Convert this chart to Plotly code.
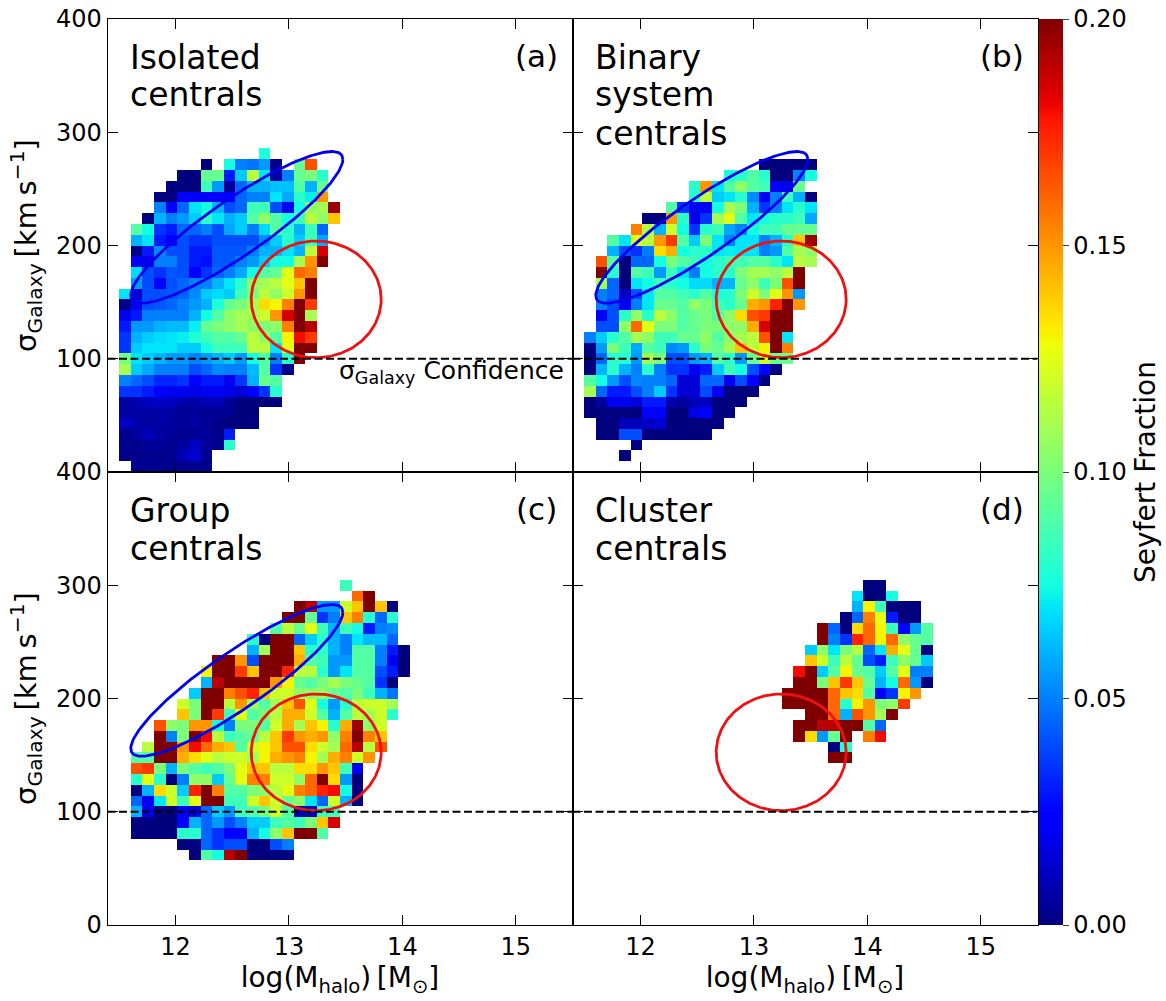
import numpy as np
import plotly.graph_objects as go

# bins: sigma bin index -> (first mass bin, seyfert fractions)
mass_edges = np.linspace(11.4, 15.5, 41)
sigma_edges = np.linspace(0, 400, 43)

isolated = {
    29: (13, [.078]),
    28: (8, [0, None, .075, .05, .048, .055, .003, None, .095, .165]),
    27: (6, [0, 0, .095, .095, .03, .065, .115, .07, .005, .05, .095, .1, .08]),
    26: (5, [0, 0, 0, .085, .055, .005, .045, .06, .06, .063, .063, .09, .06, .095]),
    25: (4, [0, 0, .022, .025, .025, .025, .025, .045, .05, .05, .07, .058, .08, .072, .15]),
    24: (4, [.05, .022, .045, .07, .075, .06, .04, .045, .085, .085, .04, .02, .075, .105, .11, .195]),
    23: (3, [0, .06, .05, .055, .065, .08, .07, .06, .065, .09, .105, .09, .075, .085, .115, .105, .14]),
    22: (2, [.09, .075, .035, .03, .045, .045, .05, .04, .058, .065, .05, .068, .09, .08, .06, .085, .045]),
    21: (2, [.06, .07, .03, .025, .04, .035, .035, .04, .04, .04, .04, .052, .065, .08, .065, .085, .058]),
    20: (2, [.002, .03, .052, .04, .04, .03, .03, .042, .042, .042, .05, .06, .06, .07, .06, .115, .185]),
    19: (2, [.02, .018, .05, .05, .04, .03, .028, .042, .042, .05, .055, .065, .075, .075, .11, .15, .2]),
    18: (2, [.068, .04, .035, .042, .04, .025, .035, .045, .05, .058, .075, .09, .095, .125, .16, .155]),
    17: (2, [.055, .04, .025, .04, .045, .05, .05, .06, .07, .08, .105, .11, .115, .125, .14, .2]),
    16: (1, [.07, .015, .04, .04, .042, .045, .052, .065, .068, .065, .085, .1, .115, .105, .12, .15, .2]),
    15: (1, [.002, .02, .04, .042, .045, .05, .055, .06, .078, .095, .1, .11, .135, .13, .155, .2, .17]),
    14: (1, [.02, .03, .05, .05, .05, .05, .06, .075, .09, .105, .11, .11, .12, .15, .185, .2, .11]),
    13: (1, [.03, .055, .055, .06, .062, .062, .072, .095, .1, .105, .11, .105, .1, .105, .155, .2, .19]),
    12: (1, [.035, .06, .065, .068, .07, .072, .078, .085, .09, .09, .095, .115, .105, .09, .13, .18, .17]),
    11: (1, [.035, .065, .07, .07, .07, .065, .065, .075, .085, .085, .085, .115, .115, .07, .125, .2, .2]),
    10: (1, [.1, .07, .065, .06, .055, .055, .05, .055, .06, .065, .055, .075, .09, .05, .08, .2]),
    9: (1, [.11, .065, .058, .05, .05, .05, .04, .045, .052, .05, .05, .062, .09, .035, .002]),
    8: (1, [.05, .045, .04, .032, .032, .035, .022, .03, .03, .02, .035, .06, .095, .09]),
    7: (1, [.035, .035, .03, .025, .02, .02, .018, .02, .02, .018, .015, .025, .035, .08]),
    6: (1, [.006, .008, .012, .012, .012, .008, .006, .01, .01, .004, 0, 0, 0, 0]),
    5: (1, [.006, .006, .006, .007, .006, .004, .005, .004, .004, .003, 0, 0]),
    4: (1, [.012, .008, .006, .006, .006, .004, .006, .004, .002, 0, 0, 0]),
    3: (1, [.002, .006, .01, .006, .004, .003, .004, .005, .002, .03]),
    2: (1, [.003, .002, .004, .004, .003, .006, .012, .004, .002, .08]),
    1: (1, [.002, .002, .003, .002, .003, .01, .014, .003]),
    0: (2, [.003, .003, .003, .003, .003, .003, .003]),
}

binary = {
    28: (16, [0, 0, 0, 0, 0]),
    27: (13, [.075, .08, .09, .08, 0, 0, .05, .075]),
    26: (10, [.08, .15, .07, .09, .105, .09, .085, .02, .02, .095]),
    25: (10, [.08, .115, .065, .07, .08, .052, .02, .05, .085, .06, 0]),
    24: (8, [.09, .035, .02, .025, .075, .11, .1, .06, .035, .05, .07, .08, .07]),
    23: (6, [0, 0, .15, .08, .018, .035, .11, .125, .09, .07, .075, .08, .08, .085, .058]),
    22: (5, [.155, .115, .06, .12, .075, .035, .08, .085, .058, .05, .075, .085, .085, .095, .095, .095]),
    21: (3, [.09, .07, .125, .115, .15, .17, .09, .065, .1, .07, .05, .07, .07, .05, .06, .08, .14, .195]),
    20: (3, [.06, .04, .035, .05, .135, .145, .075, .08, .08, .07, .072, .07, .07, .05, .055, .09, .11, .105]),
    19: (2, [.165, .09, 0, .045, .045, .075, .1, .09, .085, .075, .08, .085, .085, .09, .09, .08, .07, .115, .11]),
    18: (2, [.2, .08, 0, .09, .085, .055, .085, .07, .05, .075, .08, .08, .1, .11, .11, .105, .115, .2]),
    17: (2, [.11, .045, 0, .07, .075, .085, .08, .075, .068, .068, .06, .06, .095, .105, .085, .1, .165, .2]),
    16: (2, [.05, .045, .012, .04, .07, .09, .09, .085, .08, .09, .075, .08, .1, .12, .1, .125, .15, .055]),
    15: (2, [.05, .04, .02, .05, .07, .095, .095, .09, .105, .1, .085, .08, .095, .145, .15, .175, .2, .15]),
    14: (2, [.022, .04, .08, .105, .08, .115, .105, .09, .095, .1, .09, .105, .135, .165, .17, .2, .2]),
    13: (2, [.04, .04, .105, .16, .125, .1, .1, .09, .095, .1, .1, .105, .105, .145, .185, .2, .2]),
    12: (1, [.05, .065, .08, .09, .11, .105, .085, .085, .095, .095, .105, .09, .105, .11, .115, .165, .2, .07]),
    11: (1, [0, .055, .1, .085, .058, .09, .085, .052, .055, .08, .1, .095, .11, .14, .115, .13, .2, .155]),
    10: (1, [0, .045, .08, .08, .055, .11, .1, .04, .04, .055, .06, .09, .08, .055, .095, .12, .095, .095]),
    9: (1, [0, .06, .08, .06, .05, .08, .05, .035, .035, .02, .03, .065, .085, .075, .04, .025, 0]),
    8: (1, [.09, .075, .055, .04, .052, .05, .05, .045, .015, .015, .045, .045, .02, .04, .022, 0]),
    7: (1, [.11, .045, .03, .03, .04, .05, .065, .035, .015, .015, .04, .02, 0, 0, 0]),
    6: (1, [0, .005, .02, .02, .015, .03, .03, .008, .005, .01, .012, 0, 0, 0]),
    5: (1, [0, 0, 0, 0, 0, .022, .022, 0, 0, .018, .025, 0, 0]),
    4: (2, [0, 0, .01, .01, .012, .015, 0, 0, 0, 0, 0]),
    3: (2, [0, 0, .04, .04, 0, 0, 0, 0, 0, 0]),
    2: (5, [0]),
    1: (4, [0]),
}

group = {
    31: (20, [.085]),
    30: (21, [.16, .2]),
    29: (16, [.2, .19, .055, .055, .12, .14, .2, .14, 0]),
    28: (15, [.2, .2, .095, .035, .05, .14, .155, .08, .045, .08]),
    27: (14, [.09, .115, .095, .125, .085, .06, .085, .075, .03, .05, .052]),
    26: (12, [.08, 0, .2, .2, .045, .065, .08, .06, .05, .07, .062, .062, .045]),
    25: (12, [.06, .11, .2, .2, .14, .08, .08, .06, .05, .09, .09, .05, .03, 0]),
    24: (9, [.2, .2, .15, .04, .2, .2, .2, .145, .09, .085, .055, .055, .09, .09, .05, .02, 0]),
    23: (8, [.13, .2, .2, .17, .14, .2, .2, .175, .115, .115, .08, .055, .07, .09, .09, .04, .03, 0]),
    22: (8, [.06, .19, .2, .2, .2, .2, .15, .13, .095, .09, .1, .11, .1, .095, .09, .035, 0]),
    21: (7, [.065, .2, .2, .155, .165, .175, .14, .12, .12, .105, .105, .105, .095, .09, .1, .085, .06, .048]),
    20: (6, [.12, .1, .2, .2, .115, .15, .11, .09, .11, .14, .165, .125, .075, .055, .08, .115, .12, .12, .11]),
    19: (6, [.14, .1, .2, .17, .085, .125, .09, .1, .115, .145, .145, .12, .09, .06, .09, .115, .11, .12, .08]),
    18: (4, [.165, .105, .1, .15, .15, .075, .05, .1, .1, .09, .12, .145, .11, .14, .13, .08, .145, .195, .105, .12]),
    17: (4, [.2, .05, .1, .2, .18, .115, .085, .09, .095, .115, .14, .17, .15, .145, .15, .105, .155, .2, .155, .14]),
    16: (3, [.115, .2, .2, .15, .18, .16, .145, .14, .09, .12, .13, .14, .165, .165, .135, .12, .11, .16, .19, .115, .165]),
    15: (2, [.09, .09, .2, .2, .145, .135, .125, .115, .12, .12, .11, .13, .145, .15, .155, .13, .11, .145, .155, .12, .15]),
    14: (2, [.165, .17, .1, .06, .1, .09, .085, .09, .1, .125, .14, .14, .115, .115, .135, .135, .15, .14, .085, .02]),
    13: (2, [.08, .125, .08, 0, .05, .105, .105, .065, .095, .125, .155, .155, .12, .12, .105, .16, .2, .135, .055, 0]),
    12: (2, [0, .06, .135, .12, .065, .175, .2, .155, .09, .09, .1, .105, .115, .125, .155, .16, .175, .18, .075, 0]),
    11: (2, [.045, .02, .07, .12, .085, .125, .2, .2, .085, .085, .12, .14, .12, .095, .105, .07, .045, .12, .06, 0]),
    10: (2, [.06, .02, 0, 0, .02, .015, .045, .065, .055, .085, .09, .1, .12, .09, .01, .01, .085, .085]),
    9: (2, [0, 0, 0, 0, .025, .06, .045, .055, .04, .05, .065, .065, .085, .09, .085, .1, .14, .185]),
    8: (2, [0, 0, 0, 0, .08, .08, .045, .035, .025, .025, .06, .075, .105, .14, .2, .2, .09]),
    7: (6, [0, 0, .045, .035, .04, .04, 0, 0, .04, .05]),
    6: (7, [0, .09, .075, .19, .2, 0, 0, 0, 0]),
}

cluster = {
    31: (25, [0, 0]),
    30: (24, [.07, 0, 0, .075]),
    29: (24, [.06, .13, .085, 0, 0, 0]),
    28: (23, [0, .045, .155, .125, .03, 0, 0]),
    27: (21, [.2, .045, 0, .135, .16, .13, .085, .025, .055, .09]),
    26: (21, [.2, .05, .035, .175, .16, .13, .16, .105, .095, .09]),
    25: (20, [.065, .105, .07, .1, .115, .045, .07, .145, .125, .095, 0]),
    24: (20, [.14, .12, .085, .115, .095, .04, .03, .085, .105, .095, .065]),
    23: (19, [.18, .2, .065, .09, .13, .095, .09, .065, .09, .125, .05, .05]),
    22: (19, [.2, .2, .1, .14, .17, .14, .095, .06, .075, .16, .055, 0]),
    21: (18, [.2, .2, .2, .2, .16, .14, .135, .09, .02, .035, .13, .15]),
    20: (18, [.2, .2, .2, .2, .16, .08, .13, .15, .1, .105, .17]),
    19: (20, [.2, .2, .16, .06, .165, .15, .11, .2]),
    18: (19, [.2, .2, .19, .19, .2, .2, .09, .045]),
    17: (19, [.2, .135, .055, .095, .2, None, .155, .18]),
    16: (22, [0, .08]),
    15: (22, [.2, .2]),
}

panel_lines = [["Isolated", "centrals"], ["Binary", "system", "centrals"],
               ["Group", "centrals"], ["Cluster", "centrals"]]
panel_tags = ["(a)", "(b)", "(c)", "(d)"]
x_ticks = [12, 13, 14, 15]
cbar_ticks = [0, 0.05, 0.10, 0.15, 0.20]

# matplotlib jet
jet = [[0, "rgb(0,0,127)"], [0.11, "rgb(0,0,255)"], [0.125, "rgb(0,0,255)"],
       [0.34, "rgb(0,219,255)"], [0.35, "rgb(0,229,247)"], [0.375, "rgb(20,255,226)"],
       [0.64, "rgb(238,255,8)"], [0.65, "rgb(246,244,0)"], [0.66, "rgb(255,234,0)"],
       [0.89, "rgb(255,19,0)"], [0.91, "rgb(232,0,0)"], [1, "rgb(127,0,0)"]]

FONT = "DejaVu Sans"
W, H = 1166, 1001
MT, MB = 14, 14  # room so the colorbar does not push the margins


def py(y_px):
    # pixel row in the page -> plot area fraction
    return 1 - (y_px - MT) / (H - MT - MB)


def grid(rows):
    z = [[None] * 40 for _ in range(42)]
    for j, (first, vals) in rows.items():
        for k, v in enumerate(vals):
            z[j][first + k] = v
    return z


def ellipse(cx, cy, dx, dy, phi):
    t = np.linspace(0, 2 * np.pi, 241)
    return cx + dx * np.cos(t), cy + dy * np.cos(t - phi)


blue_x, blue_y = ellipse(12.54, 216, 0.935, 67, np.radians(26.4))
red_x, red_y = ellipse(13.24, 152.5, 0.573, 51.5, np.pi / 2)

fig = go.Figure()

panels = [isolated, binary, group, cluster]
for n, rows in enumerate(panels):
    sfx = "" if n == 0 else str(n + 1)
    xa, ya = "x" + sfx, "y" + sfx
    fig.add_trace(go.Heatmap(x=mass_edges, y=sigma_edges, z=grid(rows), coloraxis="coloraxis",
                             xaxis=xa, yaxis=ya, hoverongaps=False))
    if n < 3:
        fig.add_trace(go.Scatter(x=blue_x, y=blue_y, mode="lines", xaxis=xa, yaxis=ya, showlegend=False,
                                 line=dict(color="#0000f0", width=2.8)))
    fig.add_trace(go.Scatter(x=red_x, y=red_y, mode="lines", xaxis=xa, yaxis=ya, showlegend=False,
                             line=dict(color="#ee1111", width=2.8)))
    fig.add_shape(type="line", xref=xa, yref=ya, x0=11.4, x1=15.5, y0=100, y1=100,
                  line=dict(color="black", width=2.2, dash="8px,3.5px"))

    left = 107.5 + 465 * (n % 2)
    top = 19 + 453 * (n // 2)
    x_title = "log(M<sub>halo</sub>)\u2009[M<sub>⊙</sub>]" if n >= 2 else None
    y_title = "σ<sub>Galaxy</sub>\u2009[km\u2009s<sup>−1</sup>]" if n % 2 == 0 else None
    fig.layout["xaxis" + sfx] = dict(
        domain=[left / W, (left + 465) / W], range=[11.4, 15.5], anchor=ya,
        tickvals=x_ticks, ticks="inside", ticklen=10, tickwidth=1, tickcolor="black",
        showticklabels=n >= 2, showline=True, linecolor="black", linewidth=1, mirror="allticks",
        showgrid=False, zeroline=False, tickfont=dict(size=24),
        title=dict(text=x_title, font=dict(size=28), standoff=1))
    fig.layout["yaxis" + sfx] = dict(
        domain=[py(top + 453), py(top)], range=[0, 400], anchor=xa,
        tickvals=[0, 100, 200, 300, 400] if n >= 2 else [100, 200, 300, 400],
        ticks="inside", ticklen=10, tickwidth=1, tickcolor="black",
        showticklabels=n % 2 == 0, showline=True, linecolor="black", linewidth=1, mirror="allticks",
        showgrid=False, zeroline=False, tickfont=dict(size=24),
        title=dict(text=y_title, font=dict(size=29), standoff=10))

    # panel name, one annotation per line
    for k, line in enumerate(panel_lines[n]):
        fig.add_annotation(text=line, xref="paper", yref="paper", showarrow=False,
                           x=(left + 20) / W, y=py(top + 38 + 38 * k),
                           xanchor="left", yanchor="middle", font=dict(size=33))
    fig.add_annotation(text=panel_tags[n], xref="paper", yref="paper", showarrow=False,
                       x=(left + 429) / W, y=py(top + 37),
                       xanchor="center", yanchor="middle", font=dict(size=31))

fig.add_annotation(text="σ<sub>Galaxy</sub> Confidence", xref="paper", yref="paper", showarrow=False,
                   x=337 / W, y=py(372), xanchor="left", yanchor="middle", font=dict(size=25))

fig.update_layout(
    width=W, height=H, margin=dict(l=0, r=0, t=MT, b=MB),
    plot_bgcolor="white", paper_bgcolor="white", showlegend=False,
    font=dict(family=FONT, color="black"),
    coloraxis=dict(
        colorscale=jet, cmin=0, cmax=0.2,
        colorbar=dict(x=1038.5 / W, xanchor="left", xpad=0, y=py(925), yanchor="bottom", ypad=0,
                      len=906 / (H - MT - MB), thickness=24.4, outlinewidth=0, tickvals=cbar_ticks,
                      tickformat=".2f", ticks="outside", ticklen=6, tickwidth=1, tickfont=dict(size=24),
                      title=dict(text="Seyfert Fraction", side="right", font=dict(size=28))),
    ),
)

fig.write_html("out.html", config={"displayModeBar": False},
               post_script="document.body.style.margin='0';")
